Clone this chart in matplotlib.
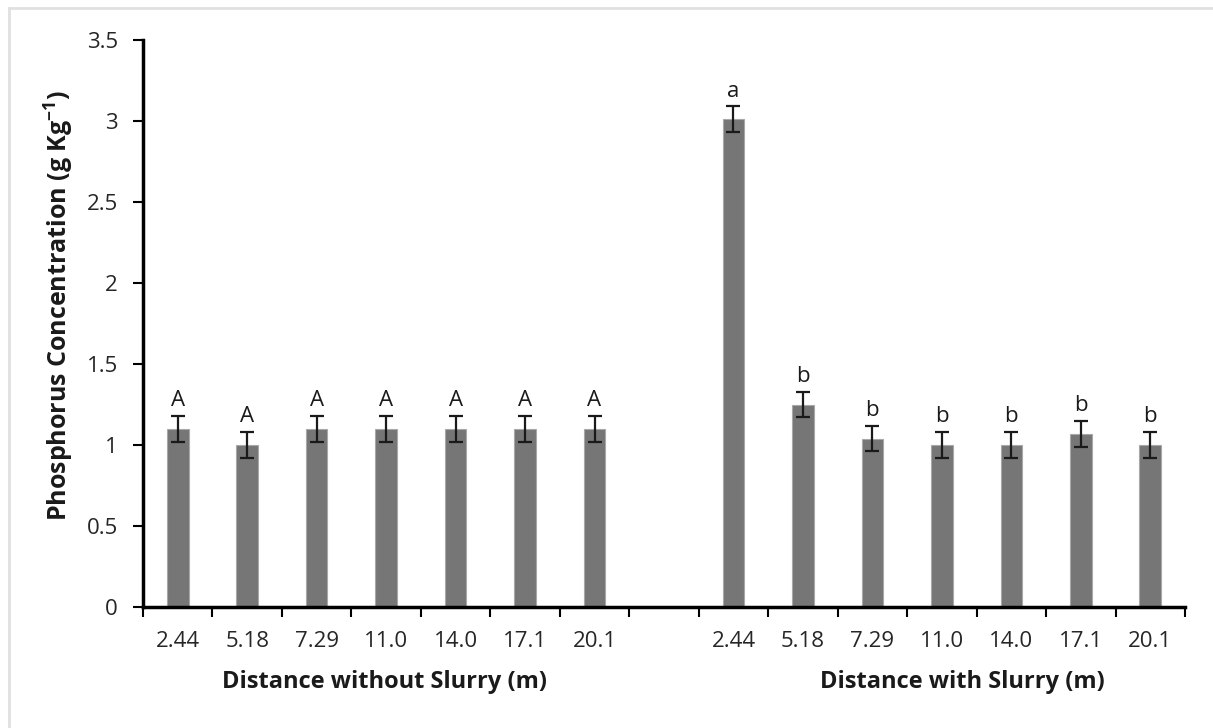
import numpy as np
import matplotlib
matplotlib.use("Agg")
import matplotlib.pyplot as plt
from matplotlib.lines import Line2D

plt.rcParams["font.family"] = ["Open Sans", "DejaVu Sans"]
plt.rcParams["mathtext.fontset"] = "custom"
plt.rcParams["mathtext.rm"] = "Open Sans"
plt.rcParams["mathtext.bf"] = "Open Sans:bold"

distances = ["2.44", "5.18", "7.29", "11.0", "14.0", "17.1", "20.1"]
without_slurry = [1.10, 1.00, 1.10, 1.10, 1.10, 1.10, 1.10]
without_err = [0.08, 0.08, 0.08, 0.08, 0.08, 0.08, 0.08]
without_letters = ["A", "A", "A", "A", "A", "A", "A"]
with_slurry = [3.01, 1.25, 1.04, 1.00, 1.00, 1.07, 1.00]
with_err = [0.08, 0.08, 0.08, 0.08, 0.08, 0.08, 0.08]
with_letters = ["a", "b", "b", "b", "b", "b", "b"]

n = len(distances)
x_without = np.arange(n)
x_with = np.arange(n) + n + 1
xs = np.concatenate([x_without, x_with])
vals = without_slurry + with_slurry
errs = without_err + with_err
letters = without_letters + with_letters

fig = plt.figure(figsize=(12.13, 7.28), dpi=100)
ax = fig.add_axes([0.1179, 0.1662, 0.9769 - 0.1179, 0.945 - 0.1662])

ax.bar(xs, vals, width=0.31, color="#767676", edgecolor="#a8a8a8", linewidth=0.8)
ax.errorbar(xs, vals, yerr=errs, fmt="none", ecolor="#1a1a1a",
            elinewidth=1.6, capsize=4.8, capthick=1.6)
for x, v, e, t in zip(xs, vals, errs, letters):
    ax.text(x, v + e + 0.03, t, ha="center", va="bottom", fontsize=16, color="#1a1a1a")

ax.set_xlim(-0.5, 2 * n + 0.5)
ax.set_ylim(0, 3.5)
ax.set_yticks(np.arange(0, 3.51, 0.5))
ax.set_yticklabels(["0", "0.5", "1", "1.5", "2", "2.5", "3", "3.5"])
ax.set_xticks(np.arange(-0.5, 2 * n + 1, 1.0))
ax.set_xticklabels([])
ax.set_xticks(xs, minor=True)
ax.set_xticklabels(distances + distances, minor=True)

ax.tick_params(axis="y", direction="out", length=7, width=1.5, pad=11,
               labelsize=16, labelcolor="#262626")
ax.tick_params(axis="x", which="major", direction="out", length=7, width=1.5)
ax.tick_params(axis="x", which="minor", length=0, pad=17,
               labelsize=16, labelcolor="#262626")

for s in ["top", "right"]:
    ax.spines[s].set_visible(False)
for s in ["left", "bottom"]:
    ax.spines[s].set_linewidth(2.5)
    ax.spines[s].set_color("#000000")

ax.set_ylabel(r"Phosphorus Concentration (g Kg$^{\mathbf{-1}}$)",
              fontsize=18, fontweight="bold", color="#1a1a1a")
ax.yaxis.set_label_coords(-0.064, 0.531)

ax.text(2.98, -0.133, "Distance without Slurry (m)", transform=ax.get_xaxis_transform(),
        ha="center", va="center", fontsize=17, fontweight="bold", color="#1a1a1a")
ax.text(11.3, -0.133, "Distance with Slurry (m)", transform=ax.get_xaxis_transform(),
        ha="center", va="center", fontsize=17, fontweight="bold", color="#1a1a1a")

# light frame at top and left
fig.add_artist(Line2D([9 / 1213, 1], [1 - 8 / 728, 1 - 8 / 728], color="#e0e0e0", lw=2,
                      transform=fig.transFigure))
fig.add_artist(Line2D([9 / 1213, 9 / 1213], [0, 1 - 8 / 728], color="#e0e0e0", lw=2,
                      transform=fig.transFigure))

fig.savefig("out.png", dpi=100)
